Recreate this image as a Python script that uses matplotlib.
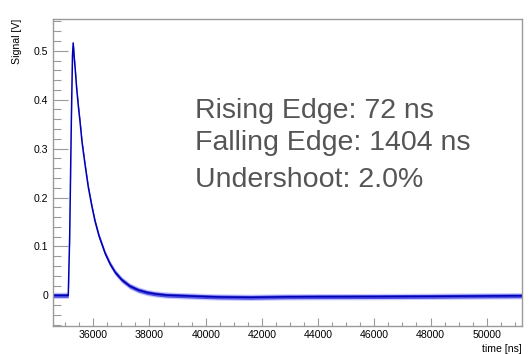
import matplotlib
matplotlib.use("Agg")
import matplotlib.pyplot as plt
from matplotlib.ticker import MultipleLocator

plt.rcParams["font.family"] = ["Liberation Sans", "DejaVu Sans"]

# Scope trace, sampled by eye along the centre of the noisy band
time_ns = [34555, 35100, 35110, 35160, 35220, 35260, 35285,
           35320, 35360, 35410, 35470, 35530, 35600, 35700, 35820,
           35950, 36060, 36200, 36420, 36600, 36780, 37010, 37300,
           37600, 37900, 38200, 38600, 39300, 40000, 40500, 41600,
           42800, 44000, 46000, 48000, 50000, 51250]
signal_v = [0.0, 0.0, 0.0, 0.12, 0.36, 0.49, 0.516,
            0.488, 0.46, 0.422, 0.386, 0.354, 0.313, 0.27, 0.222,
            0.182, 0.152, 0.122, 0.086, 0.064, 0.047, 0.032, 0.019,
            0.011, 0.006, 0.003, 0.0005, -0.001, -0.0025, -0.0033, -0.004,
            -0.003, -0.0027, -0.0025, -0.002, -0.0012, -0.0008]
# Typical and peak excursions of the noise around the trace
noise_halfwidth_v = 0.0040
noise_peak_v = 0.0065

summary_lines = ["Rising Edge: 72 ns", "Falling Edge: 1404 ns", "Undershoot: 2.0%"]

fig = plt.figure(figsize=(5.31, 3.54), dpi=100)
ax = fig.add_axes([0.0992, 0.080, 0.8833, 0.8663])

ax.fill_between(time_ns,
                [v - noise_peak_v for v in signal_v],
                [v + noise_peak_v for v in signal_v],
                color="#6a6aff", alpha=0.35, linewidth=0)
ax.fill_between(time_ns,
                [v - noise_halfwidth_v for v in signal_v],
                [v + noise_halfwidth_v for v in signal_v],
                color="#2222d8", alpha=0.75, linewidth=0)
ax.plot(time_ns, signal_v, color="#0000b4", linewidth=1.1)

ax.set_xlim(34555, 51245)
ax.set_ylim(-0.062, 0.565)

frame_col = "#9a9a9a"
for s in ax.spines.values():
    s.set_color(frame_col)
    s.set_linewidth(1.0)

ax.xaxis.set_major_locator(MultipleLocator(2000))
ax.xaxis.set_minor_locator(MultipleLocator(500))
ax.yaxis.set_major_locator(MultipleLocator(0.1))
ax.yaxis.set_minor_locator(MultipleLocator(0.02))
ax.tick_params(axis="x", which="major", direction="in", length=6, width=0.8,
               color=frame_col, labelsize=7.6, pad=3, top=False)
ax.tick_params(axis="x", which="minor", direction="in", length=3, width=0.8,
               color=frame_col, top=False)
ax.tick_params(axis="y", which="major", direction="in", length=11, width=0.8,
               color=frame_col, labelsize=7.6, pad=3, right=False)
ax.tick_params(axis="y", which="minor", direction="in", length=5.5, width=0.8,
               color=frame_col, right=False)
ax.yaxis.set_major_formatter(plt.FuncFormatter(lambda v, p: f"{v:g}" if abs(v) > 1e-9 else "0"))

fig.text(0.9825, 0.014, "time [ns]", ha="right", va="center", fontsize=7.6)
fig.text(0.032, 0.948, "Signal [V]", ha="center", va="top", rotation=90, fontsize=7.6)

ys = [0.677, 0.573, 0.452]
for line, y in zip(summary_lines, ys):
    ax.text(0.303, y, line, transform=ax.transAxes, fontsize=20.5,
            color="#555555", ha="left", va="baseline")

fig.savefig("out.png", dpi=100)
